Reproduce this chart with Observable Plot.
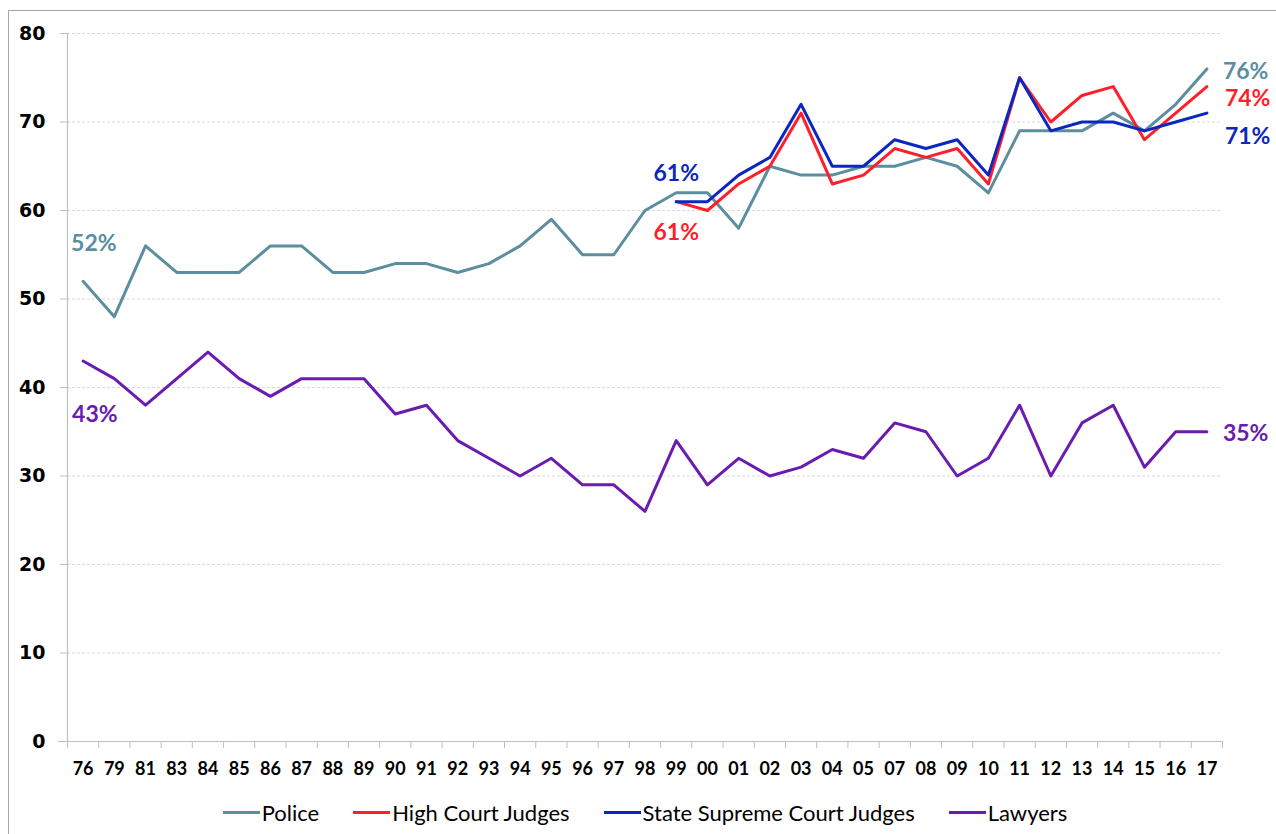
<!DOCTYPE html>
<html>
<head>
<meta charset="utf-8">
<script src="https://cdn.jsdelivr.net/npm/d3@7"></script>
<script src="https://cdn.jsdelivr.net/npm/@observablehq/plot@0.6"></script>
<style>
  html, body { margin: 0; padding: 0; background: #fff; }
  #wrap { position: relative; width: 1276px; height: 834px; overflow: hidden; background: #fff; }
  #border { position: absolute; left: 8px; top: 10px; width: 1400px; height: 1000px; border-left: 1.5px solid #a6a6a6; border-top: 1.5px solid #a6a6a6; pointer-events: none; }
  #chart { position: absolute; left: 0; top: 0; }
  #legend { position: absolute; left: 0; top: 790px; width: 1276px; height: 44px; display: flex; justify-content: center; align-items: center; font-family: Lato, "Open Sans", sans-serif; font-size: 22px; color: #000; padding-left: 14px; box-sizing: border-box; }
  .item { display: flex; align-items: center; margin: 0 17px; }
  .sw { width: 37px; height: 3px; margin-right: 2px; }
</style>
</head>
<body>
<div id="wrap">
  <div id="border"></div>
  <div id="chart"></div>
  <div id="legend"></div>
</div>
<script>
const years = ["76","79","81","83","84","85","86","87","88","89","90","91","92","93","94","95","96","97","98","99","00","01","02","03","04","05","07","08","09","10","11","12","13","14","15","16","17"];
const police = [52,48,56,53,53,53,56,56,53,53,54,54,53,54,56,59,55,55,60,62,62,58,65,64,64,65,65,66,65,62,69,69,69,71,69,72,76];
const highCourt = [null,null,null,null,null,null,null,null,null,null,null,null,null,null,null,null,null,null,null,61,60,63,65,71,63,64,67,66,67,63,75,70,73,74,68,71,74];
const stateSupreme = [null,null,null,null,null,null,null,null,null,null,null,null,null,null,null,null,null,null,null,61,61,64,66,72,65,65,68,67,68,64,75,69,70,70,69,70,71];
const lawyers = [43,41,38,41,44,41,39,41,41,41,37,38,34,32,30,32,29,29,26,34,29,32,30,31,33,32,36,35,30,32,38,30,36,38,31,35,35];
const yTicks = [0,10,20,30,40,50,60,70,80];
const seriesNames = ["Police","High Court Judges","State Supreme Court Judges","Lawyers"];
const colors = ["#5B8E9E","#FF1F2A","#0B27BF","#6A1BB0"];

const W = 1276, H = 790, ML = 67, MR = 54, MT = 33, MB = 49;
const step = (W - ML - MR) / years.length;
const labelFont = "Lato, 'Open Sans', sans-serif";
const firstIdx = (arr) => arr.findIndex(v => v != null);
const lastIdx = (arr) => arr.length - 1;
const pt = (arr, i) => [{ x: years[i], y: arr[i] }];

const labelOpts = (color, dx, dy, anchor) => ({
  x: "x", y: "y", text: d => d.y + "%", dx, dy, textAnchor: anchor,
  fill: color, fontSize: 23, fontWeight: "bold", fontFamily: labelFont
});

const chart = Plot.plot({
  width: W, height: H,
  marginLeft: ML, marginRight: MR, marginTop: MT, marginBottom: MB,
  style: { background: "transparent", overflow: "visible" },
  x: { type: "point", domain: years, padding: 0.5, round: false },
  y: { domain: [0, 80] },
  marks: [
    Plot.ruleY(yTicks.filter(t => t > 0), { stroke: "#d9d9d9", strokeDasharray: "3,2", strokeWidth: 1 }),
    Plot.ruleX([years[0]], { x: d => d, y1: 0, y2: 80, dx: -step / 2, stroke: "#bfbfbf", strokeWidth: 1.2 }),
    Plot.ruleY([0], { stroke: "#bfbfbf", strokeWidth: 1.2, insetLeft: -9 }),
    Plot.axisY({ ticks: yTicks, tickSize: 7, tickPadding: 15, stroke: "#bfbfbf", fill: "#000", fontSize: 19, fontWeight: "bold", fontFamily: "'DejaVu Sans', Verdana, sans-serif", label: null }),
    Plot.axisX({ tickSize: 7, text: null, dx: -step / 2, stroke: "#bfbfbf", label: null }),
    Plot.axisX({ ticks: [years[years.length - 1]], tickSize: 7, text: null, dx: step / 2, stroke: "#bfbfbf", label: null }),
    Plot.axisX({ tickSize: 0, tickPadding: 21, fill: "#000", fontSize: 18, fontWeight: "bold", fontFamily: labelFont, label: null }),
    Plot.lineY(police, { x: years, stroke: colors[0], strokeWidth: 3 }),
    Plot.lineY(highCourt, { x: years, stroke: colors[1], strokeWidth: 3 }),
    Plot.lineY(stateSupreme, { x: years, stroke: colors[2], strokeWidth: 3 }),
    Plot.lineY(lawyers, { x: years, stroke: colors[3], strokeWidth: 3 }),
    // start labels
    Plot.text(pt(police, 0), labelOpts(colors[0], -12, -38, "start")),
    Plot.text(pt(lawyers, 0), labelOpts(colors[3], -11, 54, "start")),
    Plot.text(pt(stateSupreme, firstIdx(stateSupreme)), labelOpts(colors[2], 0, -28, "middle")),
    Plot.text(pt(highCourt, firstIdx(highCourt)), labelOpts(colors[1], 0, 31, "middle")),
    // end labels
    Plot.text(pt(police, lastIdx(police)), labelOpts(colors[0], 16, 3, "start")),
    Plot.text(pt(highCourt, lastIdx(highCourt)), labelOpts(colors[1], 18, 12, "start")),
    Plot.text(pt(stateSupreme, lastIdx(stateSupreme)), labelOpts(colors[2], 18, 23, "start")),
    Plot.text(pt(lawyers, lastIdx(lawyers)), labelOpts(colors[3], 16, 2, "start"))
  ]
});
document.getElementById("chart").appendChild(chart);

const legend = document.getElementById("legend");
seriesNames.forEach((name, i) => {
  const item = document.createElement("div");
  item.className = "item";
  const sw = document.createElement("div");
  sw.className = "sw";
  sw.style.background = colors[i];
  const t = document.createElement("span");
  t.textContent = name;
  item.appendChild(sw);
  item.appendChild(t);
  legend.appendChild(item);
});
</script>
</body>
</html>
